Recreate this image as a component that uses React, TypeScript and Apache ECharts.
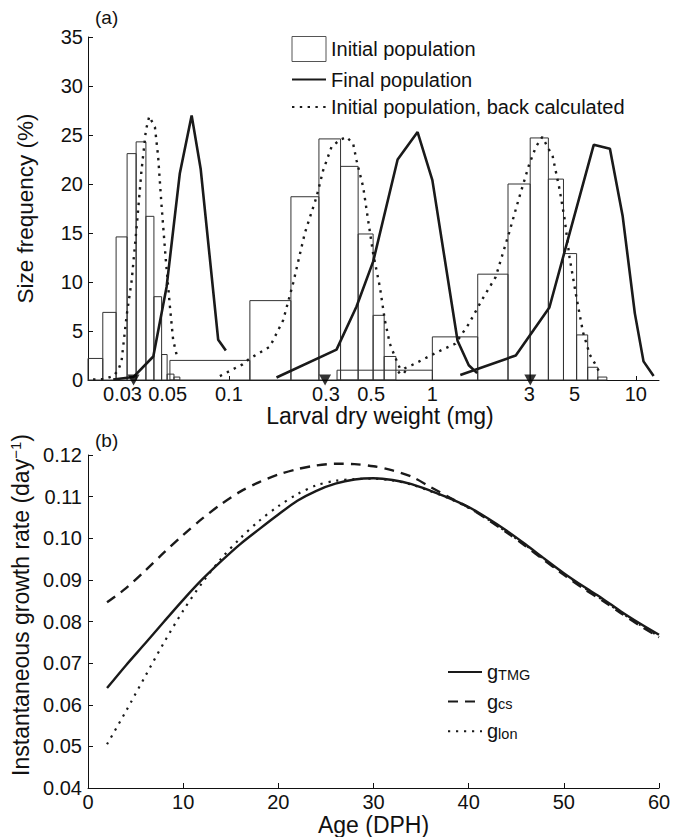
import React, { useEffect, useRef } from 'react';
import * as echarts from 'echarts';

// ---------------- Panel (a) data ----------------
// Histogram bins of the initial population (bin edges in mg, heights in %)
const hist1Edges = [0.0203, 0.024, 0.0279, 0.0316, 0.035, 0.0391, 0.0428, 0.0467, 0.0497, 0.0537, 0.0574];
const hist1Heights = [2.2, 6.9, 14.6, 23.1, 24.3, 16.7, 8.5, 2.6, 0.6, 0.3];
const hist2Edges = [0.0513, 0.1268, 0.2018, 0.277, 0.3538, 0.4317, 0.5115, 0.5795, 0.662];
const hist2Heights = [2.0, 8.1, 18.7, 24.6, 21.8, 14.9, 6.6, 2.4];
const hist3Edges = [0.34, 1.0, 1.671, 2.354, 3.026, 3.717, 4.41, 5.117, 5.801, 6.504, 7.205];
const hist3Heights = [1.0, 4.4, 10.8, 20.0, 24.7, 20.5, 12.9, 4.6, 1.3, 0.3];

// Final population (solid lines): [weight, %]
const final1 = [[0.027, 0.05], [0.0339, 0.3], [0.0425, 2.4], [0.0494, 9.5], [0.0574, 21.1], [0.0656, 27.0], [0.0727, 21.5], [0.0886, 4.1], [0.0966, 3.0]];
const final2 = [[0.1714, 0.25], [0.338, 3.1], [0.424, 7.5], [0.512, 12.1], [0.675, 22.5], [0.846, 25.3], [1.0, 20.4], [1.33, 4.0], [1.51, 1.5], [1.66, 0.7]];
const final3 = [[1.372, 0.5], [2.57, 2.5], [3.76, 7.4], [6.21, 24.0], [7.46, 23.6], [8.62, 16.7], [9.89, 6.8], [10.91, 1.9], [12.23, 0.4]];

// Initial population, back calculated (dotted lines)
const back1 = [[0.0215, 0.05], [0.0245, 0.1], [0.027, 0.4], [0.0286, 1.0], [0.0297, 2.0], [0.0314, 6.5], [0.0333, 10.2], [0.0352, 15.6], [0.0372, 21.4], [0.0391, 25.5], [0.0406, 26.9], [0.0433, 25.8], [0.0449, 22.8], [0.0467, 17.7], [0.049, 12.2], [0.0513, 7.5], [0.0532, 4.1], [0.0553, 2.6]];
const back2 = [[0.0903, 0.4], [0.0974, 0.75], [0.107, 1.2], [0.1168, 1.6], [0.1268, 2.2], [0.159, 3.4], [0.1848, 6.1], [0.207, 9.9], [0.2362, 15.0], [0.2698, 18.7], [0.2906, 21.4], [0.3196, 23.8], [0.3512, 24.5], [0.3789, 24.8], [0.4081, 24.1], [0.4241, 22.4], [0.4571, 19.7], [0.4835, 16.3], [0.5117, 12.9], [0.5521, 9.5], [0.5842, 6.1], [0.6182, 3.7], [0.654, 2.4], [0.6924, 1.2], [0.7468, 0.7]];
const back3 = [[0.678, 0.7], [0.732, 1.2], [0.79, 1.5], [0.92, 2.2], [1.112, 3.06], [1.296, 3.7], [1.508, 5.7], [1.756, 8.2], [2.046, 10.5], [2.382, 15.0], [2.67, 18.6], [2.992, 22.0], [3.23, 23.8], [3.471, 24.8], [3.904, 22.8], [4.215, 19.5], [4.462, 16.5], [4.724, 12.5], [5.1, 8.5], [5.498, 4.9], [5.934, 2.6], [6.407, 1.4], [6.653, 0.7]];

// Triangle markers on the weight axis
const meanMarkers = [0.034, 0.297, 3.03];

// Weight axis labels / ticks
const weightLabels = [0.03, 0.05, 0.1, 0.3, 0.5, 1, 3, 5, 10];
const weightTicks = [0.1, 1, 10];

// ---------------- Panel (b) data ----------------
const ages = [2, 4, 6, 8, 10, 12, 14, 16, 18, 20, 22, 24, 26, 28, 30, 32, 34, 36, 38, 40, 42, 44, 46, 48, 50, 52, 54, 56, 58, 60];
const gTMG = [0.064, 0.0695, 0.0747, 0.08, 0.0852, 0.0901, 0.0945, 0.0986, 0.1022, 0.1057, 0.109, 0.1114, 0.1131, 0.1141, 0.1144, 0.114, 0.113, 0.1114, 0.1096, 0.1075, 0.1048, 0.1018, 0.0985, 0.095, 0.0916, 0.0885, 0.0856, 0.0824, 0.0795, 0.0768];
const gCS = [0.0846, 0.088, 0.0922, 0.0966, 0.1008, 0.1047, 0.1082, 0.1112, 0.1135, 0.1153, 0.1166, 0.1175, 0.1179, 0.1178, 0.1173, 0.1163, 0.1148, 0.1123, 0.1098, 0.1074, 0.1045, 0.1014, 0.0981, 0.0946, 0.0912, 0.088, 0.0851, 0.082, 0.079, 0.0762];
const gLon = [0.0505, 0.0585, 0.0668, 0.075, 0.0826, 0.0893, 0.0951, 0.1, 0.1042, 0.1077, 0.1106, 0.1127, 0.1138, 0.1142, 0.1143, 0.1139, 0.1129, 0.1113, 0.1095, 0.1073, 0.1046, 0.1015, 0.0983, 0.0948, 0.0914, 0.0883, 0.0853, 0.0822, 0.0792, 0.0764];

const FONT = '"Liberation Sans", Arial, Helvetica, sans-serif';
const INK = '#111';
const LINE = '#1a1a1a';
const NO_SYMBOL = { color: 'rgba(0,0,0,0)', borderColor: 'rgba(0,0,0,0)', borderWidth: 0, opacity: 0 };

function binsOf(edges: number[], heights: number[]) {
  return heights.map((h, i) => [edges[i], edges[i + 1], h]);
}

export default function App() {
  const ref = useRef<HTMLDivElement>(null);
  useEffect(() => {
    if (!ref.current) return;
    const chart = echarts.init(ref.current, undefined, { renderer: 'svg' });
    const histData = [
      ...binsOf(hist1Edges, hist1Heights),
      ...binsOf(hist2Edges, hist2Heights),
      ...binsOf(hist3Edges, hist3Heights),
    ];
    const axisCommon = {
      axisLine: { show: true, onZero: false, lineStyle: { color: INK, width: 1 } },
      splitLine: { show: false },
      minorTick: { show: false },
      minorSplitLine: { show: false },
    };
    const finalStyle = { color: LINE, width: 2.6, type: 'solid' };
    const backStyle = { color: LINE, width: 2.4, type: [2.4, 5.4] };
    const lineSeries = (name: string, data: number[][], style: any) => ({
      type: 'line', name, data, xAxisIndex: 0, yAxisIndex: 0, symbol: 'none', showSymbol: false,
      lineStyle: style, itemStyle: { color: LINE }, z: 3, silent: true,
    });
    const option: any = {
      animation: false,
      backgroundColor: '#fff',
      textStyle: { fontFamily: FONT, color: INK },
      grid: [
        { left: 88, top: 37, width: 571, height: 343, containLabel: false, outerBoundsMode: 'none' },
        { left: 88, top: 455, width: 571, height: 333, containLabel: false, outerBoundsMode: 'none' },
      ],
      xAxis: [
        {
          ...axisCommon,
          type: 'log', logBase: 10, gridIndex: 0, min: 0.0203, max: 13,
          axisTick: { show: true, inside: true, length: 4, customValues: weightTicks, lineStyle: { color: INK } },
          axisLabel: {
            show: true, customValues: weightLabels, margin: 4, fontSize: 20, color: INK, fontFamily: FONT,
            formatter: (v: number) => String(+Number(v).toPrecision(2)),
          },
          name: 'Larval dry weight (mg)', nameLocation: 'middle', nameGap: 24,
          nameTextStyle: { fontSize: 23, color: INK, fontFamily: FONT, padding: [0, 0, 0, 13] },
        },
        {
          ...axisCommon,
          type: 'value', gridIndex: 1, min: 0, max: 60, interval: 10,
          axisTick: { show: true, inside: true, length: 5, lineStyle: { color: INK } },
          axisLabel: { show: true, margin: 4, fontSize: 20, color: INK, fontFamily: FONT },
          name: 'Age (DPH)', nameLocation: 'middle', nameGap: 25,
          nameTextStyle: { fontSize: 23, color: INK, fontFamily: FONT },
        },
      ],
      yAxis: [
        {
          ...axisCommon,
          type: 'value', gridIndex: 0, min: 0, max: 35, interval: 5,
          axisTick: { show: true, inside: true, length: 5, lineStyle: { color: INK } },
          axisLabel: { show: true, margin: 5, fontSize: 20, color: INK, fontFamily: FONT },
          name: 'Size frequency (%)', nameLocation: 'middle', nameGap: 51,
          nameTextStyle: { fontSize: 22.5, color: INK, fontFamily: FONT },
        },
        {
          ...axisCommon,
          type: 'value', gridIndex: 1, min: 0.04, max: 0.12, interval: 0.01,
          axisTick: { show: true, inside: true, length: 5, lineStyle: { color: INK } },
          axisLabel: {
            show: true, margin: 6, fontSize: 20, color: INK, fontFamily: FONT,
            formatter: (v: number) => Number(v).toFixed(2),
          },
          name: '{a|Instantaneous growth rate (day}{s|−1}{a|)}', nameLocation: 'middle', nameGap: 47,
          nameTextStyle: {
            color: INK, fontFamily: FONT, padding: [0, 0, 0, 33],
            rich: {
              a: { fontSize: 23, lineHeight: 26, color: INK, fontFamily: FONT },
              s: { fontSize: 15, lineHeight: 16, verticalAlign: 'top', color: INK, fontFamily: FONT },
            },
          },
        },
      ],
      legend: [
        {
          orient: 'vertical', left: 291, top: 36, padding: 0, itemWidth: 34, itemHeight: 25, itemGap: 7.5,
          selectedMode: false,
          textStyle: { fontSize: 20, color: INK, fontFamily: FONT, padding: [6, 0, 0, 0] },
          data: [
            { name: 'Initial population', icon: 'rect', itemStyle: { color: '#fff', borderColor: '#555', borderWidth: 1 } },
            { name: 'Final population', itemStyle: NO_SYMBOL },
            { name: 'Initial population, back calculated', itemStyle: NO_SYMBOL },
          ],
        },
        {
          orient: 'vertical', left: 447, top: 656, padding: 0, itemWidth: 34, itemHeight: 14, itemGap: 3.6,
          selectedMode: false,
          itemStyle: NO_SYMBOL,
          formatter: (n: string) => ({ gTMG: '{g|g}{s|TMG}', gcs: '{g|g}{s|cs}', glon: '{g|g}{s|lon}' } as any)[n],
          textStyle: {
            color: INK, fontFamily: FONT,
            rich: {
              g: { fontSize: 20, lineHeight: 20, verticalAlign: 'top', color: INK, fontFamily: FONT },
              s: { fontSize: 14.5, lineHeight: 20, padding: [11, 0, 0, 0], verticalAlign: 'bottom', color: INK, fontFamily: FONT },
            },
          },
          data: [
            { name: 'gTMG', itemStyle: NO_SYMBOL },
            { name: 'gcs', itemStyle: NO_SYMBOL },
            { name: 'glon', itemStyle: NO_SYMBOL },
          ],
        },
      ],
      graphic: [
        { type: 'text', left: 95, top: 8, style: { text: '(a)', fontSize: 19, fill: INK, fontFamily: FONT } },
        { type: 'text', left: 95, top: 431, style: { text: '(b)', fontSize: 19, fill: INK, fontFamily: FONT } },
      ],
      series: [
        {
          type: 'custom', name: 'Initial population', xAxisIndex: 0, yAxisIndex: 0, z: 1, silent: true,
          data: histData, encode: { x: [0, 1], y: 2 },
          itemStyle: { color: '#fff', borderColor: '#555', borderWidth: 1 },
          renderItem: (params: any, api: any) => {
            const p0 = api.coord([api.value(0), api.value(2)]);
            const p1 = api.coord([api.value(1), 0]);
            return {
              type: 'rect',
              shape: { x: p0[0], y: p0[1], width: p1[0] - p0[0], height: p1[1] - p0[1] },
              style: { fill: 'none', stroke: '#333', lineWidth: 1 },
            };
          },
        },
        lineSeries('Final population', final1, finalStyle),
        lineSeries('Final population', final2, finalStyle),
        lineSeries('Final population', final3, finalStyle),
        lineSeries('Initial population, back calculated', back1, backStyle),
        lineSeries('Initial population, back calculated', back2, backStyle),
        lineSeries('Initial population, back calculated', back3, backStyle),
        {
          type: 'scatter', xAxisIndex: 0, yAxisIndex: 0, z: 10, clip: false, silent: true,
          symbol: 'triangle', symbolRotate: 180, symbolSize: [12, 11],
          itemStyle: { color: '#000' },
          data: meanMarkers.map((m) => [m, 0]),
        },
        {
          type: 'line', name: 'gTMG', xAxisIndex: 1, yAxisIndex: 1, symbol: 'none', smooth: 0.3,
          data: ages.map((a, i) => [a, gTMG[i]]), lineStyle: { color: LINE, width: 2.4, type: 'solid' },
          itemStyle: { color: LINE }, z: 4,
        },
        {
          type: 'line', name: 'gcs', xAxisIndex: 1, yAxisIndex: 1, symbol: 'none', smooth: 0.3,
          data: ages.map((a, i) => [a, gCS[i]]), lineStyle: { color: LINE, width: 2.4, type: [10, 7] },
          itemStyle: { color: LINE }, z: 3,
        },
        {
          type: 'line', name: 'glon', xAxisIndex: 1, yAxisIndex: 1, symbol: 'none', smooth: 0.3,
          data: ages.map((a, i) => [a, gLon[i]]), lineStyle: { color: LINE, width: 2.2, type: [2.2, 5.8] },
          itemStyle: { color: LINE }, z: 3,
        },
      ],
    };
    chart.setOption(option);
    return () => chart.dispose();
  }, []);
  return (
    <div
      ref={ref}
      style={{ position: 'absolute', left: 0, top: 0, width: 674, height: 837, background: '#fff' }}
    />
  );
}
